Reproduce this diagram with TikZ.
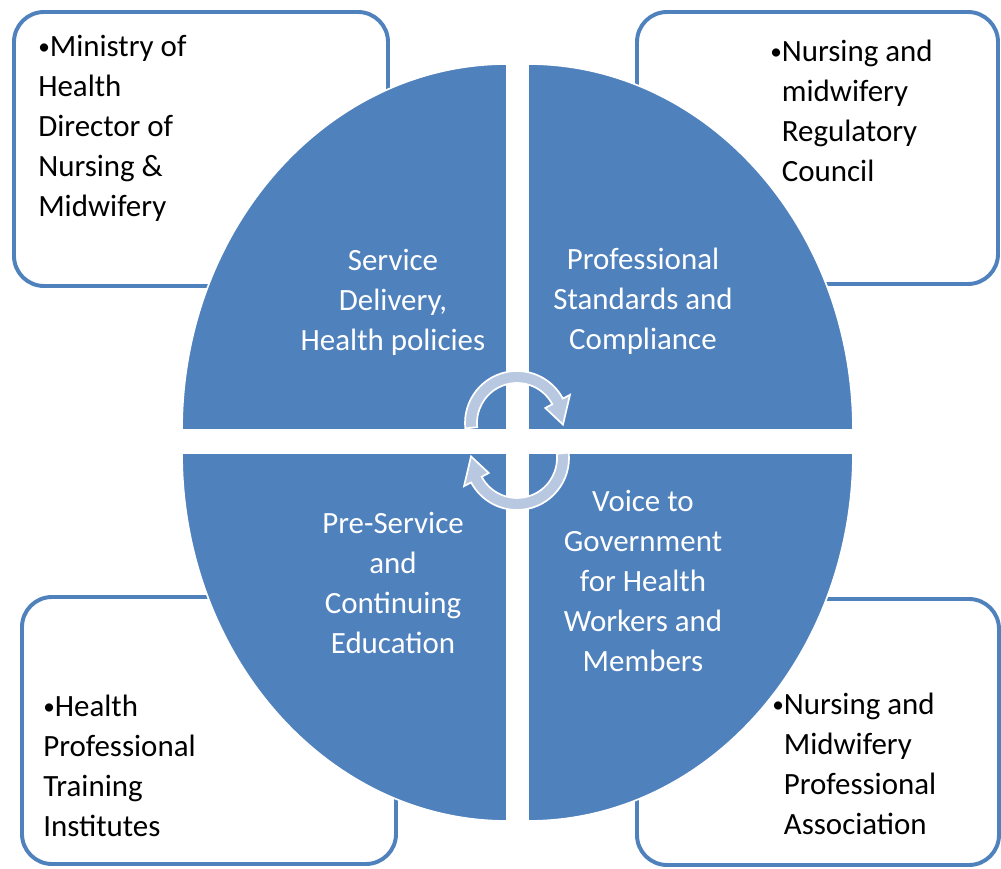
\documentclass[tikz,border=0pt]{standalone}
\usepackage{fontspec}
\setmainfont{Carlito}
\usepackage{tikz}
\usepackage{xcolor}
\usetikzlibrary{positioning}
\definecolor{quadblue}{HTML}{4F81BD}
\definecolor{cyclefill}{HTML}{B9C8E1}
\newcommand{\listdot}{\raisebox{0.06em}{\fontsize{16.5}{16.5}\selectfont•}}
\newcommand{\hangbullet}{\hphantom{\listdot}}

\begin{document}
\begin{tikzpicture}[x=0.025cm, y=0.025cm,
  roundbox/.style={draw=quadblue, line width=2.8pt, fill=white, rounded corners=0.75cm},
  quad/.style={fill=quadblue, draw=white, line width=1.2pt},
  cyclearrow/.style={fill=cyclefill, draw=white, line width=1.2pt},
  boxtext/.style={anchor=north west, inner sep=0pt, align=left, font=\fontsize{22}{28.45}\selectfont},
  quadtext/.style={anchor=north, inner sep=0pt, align=center, text=white, font=\fontsize{22}{28.45}\selectfont}]
\useasboundingbox (0,0) rectangle (1001,869);

% corner boxes
\draw[roundbox] (14,583) rectangle (388,857);
\draw[roundbox] (637,585) rectangle (998,857);
\draw[roundbox] (22,5) rectangle (396,272);
\draw[roundbox] (637,4) rectangle (999,270);

\node[boxtext] (ministry) at (38,834) {\listdot Ministry of\\Health\\Director of\\Nursing \&\\Midwifery};
\node[boxtext] (council) at (770,829) {\listdot Nursing and\\\hangbullet midwifery\\\hangbullet Regulatory\\\hangbullet Council};
\node[boxtext] (institutes) at (43,174) {\listdot Health\\Professional\\Training\\Institutes};
\node[boxtext] (association) at (772,176) {\listdot Nursing and\\\hangbullet Midwifery\\\hangbullet Professional\\\hangbullet Association};

% four quarters
\draw[quad] (507,439) -- (182,439) arc[start angle=180, end angle=90, x radius=325, y radius=366] -- cycle;
\draw[quad] (528,439) -- (528,805) arc[start angle=90, end angle=0, x radius=325, y radius=366] -- cycle;
\draw[quad] (507,416) -- (182,416) arc[start angle=180, end angle=270, x radius=325, y radius=368] -- cycle;
\draw[quad] (528,416) -- (853,416) arc[start angle=0, end angle=-90, x radius=325, y radius=368] -- cycle;

\node[quadtext] (service) at (393,620) {Service\\Delivery,\\Health policies};
\node[quadtext] (standards) at (643,621) {Professional\\Standards and\\Compliance};
\node[quadtext] (education) at (393,357) {Pre-Service\\and\\Continuing\\Education};
\node[quadtext] (voice) at (643,379) {Voice to\\Government\\for Health\\Workers and\\Members};

% cycle arrows
\begin{scope}[shift={(517,446)}]
\draw[cyclearrow] (186:52) arc[start angle=186, end angle=28, radius=52] -- (28:60) -- (-2:46) -- (28:32) -- (28:40) arc[start angle=28, end angle=186, radius=40] -- cycle;
\end{scope}
\begin{scope}[shift={(517,411)}]
\draw[cyclearrow] (6:52) arc[start angle=6, end angle=-152, radius=52] -- (208:60) -- (178:46) -- (208:32) -- (208:40) arc[start angle=-152, end angle=6, radius=40] -- cycle;
\end{scope}
\end{tikzpicture}
\end{document}
